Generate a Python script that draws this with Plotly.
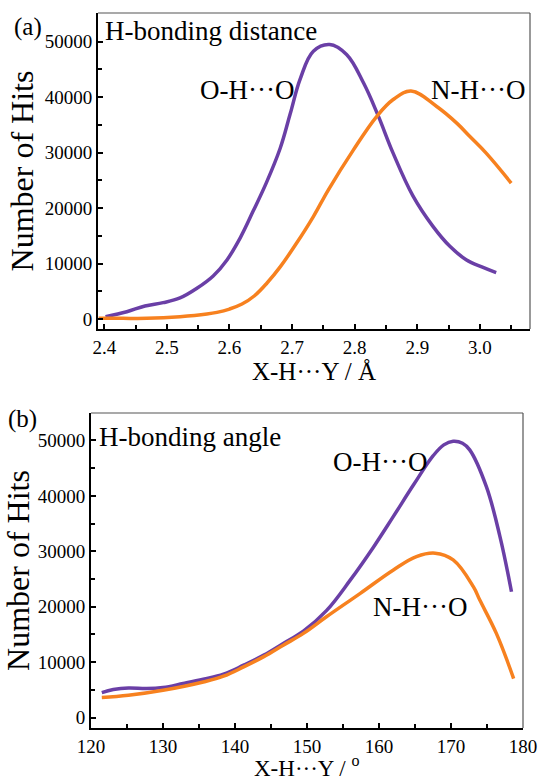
import plotly.graph_objects as go

# ---- data ----
dist_oho_x = [2.402, 2.436, 2.465, 2.494, 2.521, 2.548, 2.574, 2.596, 2.617, 2.638, 2.659, 2.681,
              2.697, 2.713, 2.734, 2.760, 2.787, 2.814, 2.837, 2.861, 2.893, 2.925, 2.952, 2.978,
              3.005, 3.026]
dist_oho_y = [420, 1320, 2350, 2950, 3800, 5540, 7760, 10650, 14600, 19500, 24600, 30800,
              37000, 43300, 48300, 49500, 47700, 42600, 36800, 30000, 22200, 16700, 13100, 10700,
              9300, 8360]

dist_nho_x = [2.391, 2.430, 2.468, 2.521, 2.564, 2.580, 2.600, 2.620, 2.640, 2.660, 2.681, 2.707,
              2.734, 2.758, 2.798, 2.835, 2.861, 2.890, 2.931, 2.963, 2.984, 3.010, 3.050]
dist_nho_y = [150, 120, 120, 420, 900, 1200, 1800, 2700, 4200, 6500, 9400, 13650,
              18470, 23300, 30500, 36500, 39530, 41100, 38320, 35320, 32900, 29900, 24500]

ang_oho_x = [121.5, 123.1, 125.2, 127.7, 130.0, 132.8, 135.6, 138.4, 141.2, 144.0, 146.7, 149.5,
             152.7, 156.0, 159.2, 162.0, 164.8, 167.5, 169.0, 170.3, 171.6, 172.6, 174.9, 176.8, 178.4]
ang_oho_y = [4520, 5060, 5350, 5240, 5420, 6150, 6930, 7830, 9460, 11270, 13380, 15600,
             19300, 24800, 30700, 36300, 42000, 47200, 49200, 49850, 49500, 48300, 41700, 32660, 22710]

ang_nho_x = [121.5, 125.2, 130.0, 135.6, 138.4, 141.2, 144.0, 146.7, 149.5, 152.7, 157.4, 162.0,
             165.2, 167.8, 170.3, 173.1, 174.0, 176.3, 178.7]
ang_nho_y = [3620, 4030, 4940, 6440, 7470, 9150, 11000, 13070, 15200, 18190, 22420, 26640,
             29040, 29660, 28450, 23620, 21200, 15190, 7050]

series_names = ["O-H···O", "N-H···O"]
panel_titles = ["H-bonding distance", "H-bonding angle"]
panel_tags = ["(a)", "(b)"]
y_title = "Number of Hits"
x_titles = ["X-H···Y / Å", "X-H···Y / <sup>o</sup>"]

# ---- style ----
W, H = 541, 783
FONT = "Times New Roman, Liberation Serif, Tinos, serif"
PURPLE = "#6a3fa6"
ORANGE = "#f7811f"
LW = 3.5


def px(x):
    return x / W


def py(y):
    return 1 - y / H


fig = go.Figure()
for xs, ys, col, nm, xa, ya in [
    (dist_oho_x, dist_oho_y, PURPLE, series_names[0], "x", "y"),
    (dist_nho_x, dist_nho_y, ORANGE, series_names[1], "x", "y"),
    (ang_oho_x, ang_oho_y, PURPLE, series_names[0], "x2", "y2"),
    (ang_nho_x, ang_nho_y, ORANGE, series_names[1], "x2", "y2"),
]:
    fig.add_trace(go.Scatter(x=xs, y=ys, mode="lines", name=nm,
                             line=dict(color=col, width=LW, shape="spline", smoothing=1.1),
                             xaxis=xa, yaxis=ya))

tickfont = dict(family=FONT, size=19, color="black")
minor_style = dict(ticks="inside", ticklen=4, tickcolor="black", tickwidth=1.5)
common_axis = dict(showline=True, linecolor="black", linewidth=2, mirror=False,
                   ticks="inside", ticklen=5, tickwidth=1.5, tickcolor="black",
                   showgrid=False, zeroline=False, tickfont=tickfont, automargin=False)

fig.update_layout(
    template="none",
    width=W, height=H, margin=dict(l=0, r=0, t=0, b=0, pad=0),
    plot_bgcolor="white", paper_bgcolor="white", showlegend=False,
    font=dict(family=FONT, color="black"),
    xaxis=dict(domain=[px(98), px(530)], anchor="y", range=[2.39, 3.08],
               dtick=0.1, tick0=2.4, tickformat=".1f",
               minor=dict(dtick=0.05, tick0=2.4, **minor_style),
               title=dict(text=x_titles[0], font=dict(family=FONT, size=25, color="black"), standoff=3),
               **common_axis),
    yaxis=dict(domain=[py(329), py(13)], anchor="x", range=[-1800, 55180],
               dtick=10000, tick0=0, tickformat="d",
               minor=dict(dtick=5000, **minor_style),
               title=dict(text=y_title, font=dict(family=FONT, size=32, color="black"), standoff=2),
               **common_axis),
    xaxis2=dict(domain=[px(91), px(523)], anchor="y2", range=[120, 180],
                dtick=10, tick0=120,
                minor=dict(dtick=5, tick0=120, **minor_style),
                **common_axis),
    yaxis2=dict(domain=[py(728), py(413)], anchor="x2", range=[-1870, 54950],
                dtick=10000, tick0=0, tickformat="d",
                minor=dict(dtick=5000, **minor_style),
                title=dict(text=y_title, font=dict(family=FONT, size=32, color="black"), standoff=2),
                **common_axis),
)

# thin grey top/right frame lines
for xr, yr in [("x domain", "y domain"), ("x2 domain", "y2 domain")]:
    fig.add_shape(type="line", xref=xr, yref=yr, x0=0, x1=1, y0=1, y1=1,
                  line=dict(color="#555555", width=1.2))
    fig.add_shape(type="line", xref=xr, yref=yr, x0=1, x1=1, y0=0, y1=1,
                  line=dict(color="#555555", width=1.2))

ann_font = dict(family=FONT, size=27, color="black")
tag_font = dict(family=FONT, size=25, color="black")
xt_font = dict(family=FONT, size=23, color="black")
annotations = [
    (panel_tags[0], 28, 27, "center", "middle", tag_font),
    (panel_titles[0], 103, 31, "left", "middle", ann_font),
    (series_names[0], 247, 90, "center", "middle", ann_font),
    (series_names[1], 478, 90, "center", "middle", ann_font),
    (panel_tags[1], 22, 419, "center", "middle", tag_font),
    (panel_titles[1], 97, 437, "left", "middle", ann_font),
    (series_names[0], 380, 462, "center", "middle", ann_font),
    (series_names[1], 420, 607, "center", "middle", ann_font),
    (x_titles[1], 307, 783, "center", "bottom", xt_font),
]
for text, ax, ay, anchor, yanc, f in annotations:
    fig.add_annotation(text=text, xref="paper", yref="paper", x=px(ax), y=py(ay),
                       xanchor=anchor, yanchor=yanc, showarrow=False, font=f)

fig.write_html("out.html")
